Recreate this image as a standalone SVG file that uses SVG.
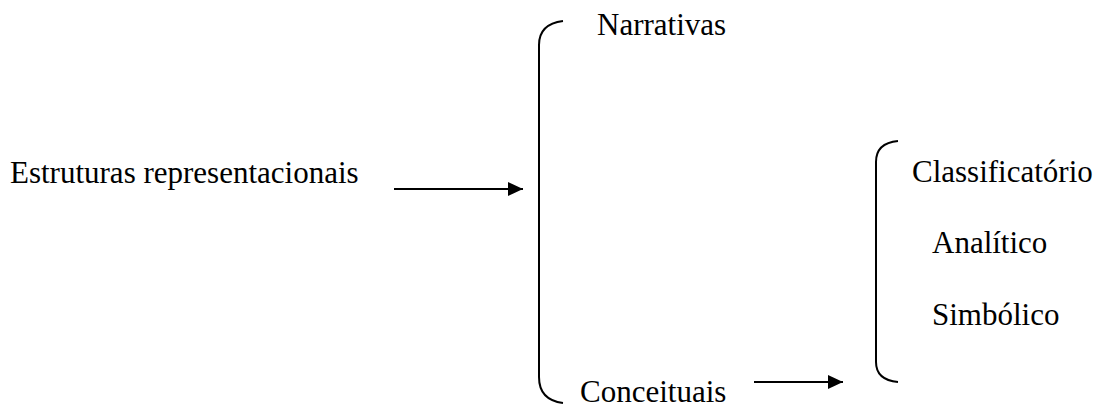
<svg xmlns="http://www.w3.org/2000/svg" width="1105" height="405" viewBox="0 0 1105 405">
<style>
text{font-family:"Liberation Serif","Times New Roman",serif;font-size:31px;fill:#000}
.br{fill:none;stroke:#000;stroke-width:2}
.ar{stroke:#000;stroke-width:2;fill:none}
</style>
<defs>
<marker id="ah" markerWidth="15" markerHeight="14" refX="15" refY="7" orient="auto" markerUnits="userSpaceOnUse">
<path d="M0,0 L15,7 L0,14 Z" fill="#000"/>
</marker>
</defs>
<rect width="1105" height="405" fill="#fff"/>
<g id="root"><text x="10" y="183">Estruturas representacionais</text></g>
<g id="brace1"><path class="br" d="M563,21 Q539,24 539,45 L539,377 Q539,400 563,403"/></g>
<g id="narrativas"><text x="597" y="35">Narrativas</text></g>
<g id="conceituais"><text x="580" y="402">Conceituais</text></g>
<g id="brace2"><path class="br" d="M898,141 Q876,143 876,162 L876,362 Q876,380 898,382"/></g>
<g id="classificatorio"><text x="912" y="182">Classificatório</text></g>
<g id="analitico"><text x="932" y="253">Analítico</text></g>
<g id="simbolico"><text x="932" y="325">Simbólico</text></g>
<g id="connectors">
<line class="ar" x1="394" y1="189" x2="523" y2="189" marker-end="url(#ah)"/>
<line class="ar" x1="754" y1="382" x2="843" y2="382" marker-end="url(#ah)"/>
</g>
</svg>
